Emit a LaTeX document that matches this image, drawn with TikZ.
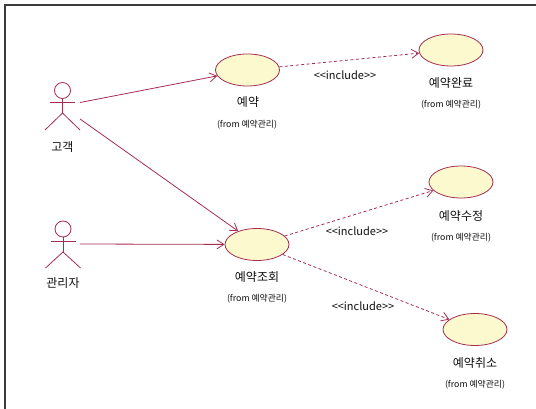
\documentclass[tikz,border=0pt]{standalone}
\usepackage{fontspec}
\setmainfont{Noto Sans CJK KR}
\usetikzlibrary{shapes.geometric,arrows.meta}
\definecolor{umlline}{RGB}{165,45,80}
\definecolor{umlfill}{RGB}{252,249,206}
\definecolor{frameline}{RGB}{60,60,60}
\definecolor{txt}{RGB}{15,15,15}
\tikzset{
  usecase/.style={ellipse,draw=umlline,fill=umlfill,line width=0.8pt,inner sep=0pt,minimum width=64pt,minimum height=32pt},
  namelbl/.style={font=\fontsize{12}{14}\selectfont,text=txt,inner sep=0pt},
  fromlbl/.style={font=\fontsize{8.8}{10}\selectfont,text=txt,inner sep=0pt},
  inclbl/.style={font=\fontsize{11}{13}\selectfont,text=txt,inner sep=0pt},
  assoc/.style={draw=umlline,line width=0.8pt,-{Straight Barb[length=7pt,width=9pt]}},
  incl/.style={draw=umlline,line width=0.8pt,dash pattern=on 3pt off 2.5pt,-{Straight Barb[length=7pt,width=9pt]}},
  figure/.style={draw=umlline,line width=0.8pt},
  anchorpt/.style={inner sep=0pt,minimum size=0pt}
}
\newcommand{\inclabel}{<\kern0pt<\kern0pt include>\kern0pt>}
\begin{document}
\begin{tikzpicture}[x=1pt,y=-1pt]
\useasboundingbox (0,0) rectangle (536,409);
% frame
\draw[frameline,line width=1.6pt] (5,409) -- (5,5) -- (536,5);

% actor 고객
\node[anchorpt] (cust) at (62.5,90.5) {};
\begin{scope}[shift={(cust)}]
  \draw[figure] (0,0) circle (8);
  \draw[figure] (-12.5,11.5) -- (12.5,11.5);
  \draw[figure] (0,8) -- (0,22.5);
  \draw[figure] (-17.5,39.5) -- (0,22.5) -- (17.5,39.5);
\end{scope}
\node[namelbl] (custlbl) at (62.5,147) {고객};
\coordinate (custA) at (80,102.5);
\coordinate (custB) at (80,119);

% actor 관리자
\node[anchorpt] (admin) at (63,229) {};
\begin{scope}[shift={(admin)}]
  \draw[figure] (0,0) circle (8);
  \draw[figure] (-12.5,12) -- (12.5,12);
  \draw[figure] (0,8) -- (0,23);
  \draw[figure] (-17.5,39) -- (0,23) -- (17.5,39);
\end{scope}
\node[namelbl] (adminlbl) at (63,283) {관리자};
\coordinate (adminA) at (80,244);

% use cases
\node[usecase] (uc1) at (247.5,70) {};
\node[namelbl] (uc1n) at (248,102) {예약};
\node[fromlbl] (uc1f) at (247,125) {(from 예약관리)};

\node[usecase] (uc2) at (451,50) {};
\node[namelbl] (uc2n) at (451,83) {예약완료};
\node[fromlbl] (uc2f) at (451,105) {(from 예약관리)};

\node[usecase] (uc3) at (257,244.5) {};
\node[namelbl] (uc3n) at (257,277) {예약조회};
\node[fromlbl] (uc3f) at (257,299) {(from 예약관리)};

\node[usecase] (uc4) at (461,182) {};
\node[namelbl] (uc4n) at (461,216) {예약수정};
\node[fromlbl] (uc4f) at (461,238) {(from 예약관리)};

\node[usecase] (uc5) at (475,329.5) {};
\node[namelbl] (uc5n) at (475,363) {예약취소};
\node[fromlbl] (uc5f) at (475,385) {(from 예약관리)};

% associations
\draw[assoc] (custA) -- (uc1);
\draw[assoc] (custB) -- (uc3);
\draw[assoc] (adminA) -- (uc3);

% includes
\draw[incl] (uc1) -- (uc2);
\draw[incl] (uc3) -- (uc4);
\draw[incl] (uc3) -- (uc5);

\node[inclbl] (inc1) at (345,75) {\inclabel};
\node[inclbl] (inc2) at (357,231) {\inclabel};
\node[inclbl] (inc3) at (363,306) {\inclabel};
\end{tikzpicture}
\end{document}
